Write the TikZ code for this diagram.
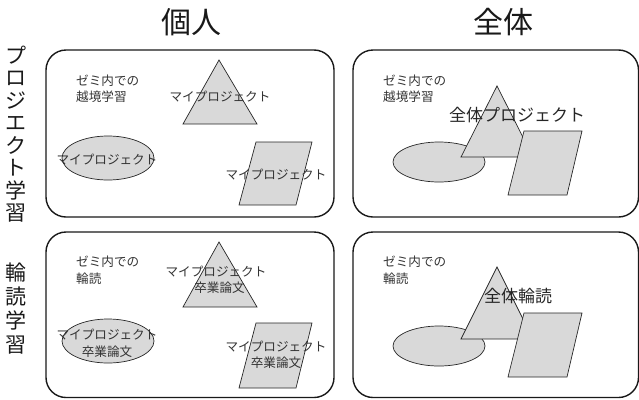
\documentclass[tikz,border=0pt]{standalone}
\usepackage{fontspec}
\setmainfont{Noto Sans CJK JP}
\usetikzlibrary{shapes.geometric}
\tikzset{
  panel/.style={draw=black!90, line width=1.4pt, rounded corners=20pt},
  shp/.style={draw=black!85, fill=black!15, line width=0.7pt},
  lbl/.style={inner sep=0pt, text=black!80, font=\fontsize{12.6}{16.5}\selectfont, align=center},
  biglbl/.style={inner sep=0pt, text=black!85, font=\fontsize{17}{20}\selectfont},
  head/.style={inner sep=0pt, text=black!90, font=\fontsize{30}{32}\selectfont},
  side/.style={inner sep=0pt, text=black!90, font=\fontsize{21}{22.5}\selectfont, align=center},
}
\begin{document}
\begin{tikzpicture}[x=1pt, y=-1pt]
\useasboundingbox (0,0) rectangle (639,399);
% headings
\node[head] (hk) at (191,22) {個人};
\node[head] (hz) at (503,22) {全体};
% side labels
\node[side] (sp) at (16,134) {プ\\ロ\\ジ\\エ\\ク\\ト\\学\\習};
\node[side] (sr) at (16,309) {輪\\[1.5pt]読\\[1.5pt]学\\[1.5pt]習};
% panels
\draw[panel] (46,50) rectangle (334,217);
\draw[panel] (353,50) rectangle (638.5,217);
\draw[panel] (46,232) rectangle (334,397.5);
\draw[panel] (353,232) rectangle (638.5,397.5);

% ---------- top-left ----------
\node[lbl, align=left, anchor=west] (tl0) at (76,88.5) {ゼミ内での\\越境学習};
\draw[shp] (219,60) -- (257,124) -- (183,124) -- cycle;
\node[lbl] (tl1) at (220,97) {マイプロジェクト};
\draw[shp] (108,158) ellipse (46 and 22);
\node[lbl] (tl2) at (107,160) {マイプロジェクト};
\draw[shp] (256,142) -- (312,142) -- (296,205) -- (239,205) -- cycle;
\node[lbl] (tl3) at (276,175) {マイプロジェクト};

% ---------- top-right ----------
\node[lbl, align=left, anchor=west] (tr0) at (383,88.5) {ゼミ内での\\越境学習};
\draw[shp] (439,162) ellipse (46 and 20);
\draw[shp] (497,86) -- (533,157) -- (461,157) -- cycle;
\draw[shp] (524,131) -- (582,131) -- (567,195) -- (508,195) -- cycle;
\node[biglbl] (tr1) at (517,115) {全体プロジェクト};

% ---------- bottom-left ----------
\node[lbl, align=left, anchor=west] (bl0) at (76,270) {ゼミ内での\\輪読};
\draw[shp] (219,242) -- (257,307) -- (183,307) -- cycle;
\node[lbl] (bl1) at (216,280) {マイプロジェクト\\\hspace*{7pt}卒業論文};
\draw[shp] (108,341) ellipse (46 and 22);
\node[lbl] (bl2) at (107,343.5) {マイプロジェクト\\卒業論文};
\draw[shp] (256,323) -- (312,323) -- (296,388) -- (239,388) -- cycle;
\node[lbl] (bl3) at (276,355) {マイプロジェクト\\卒業論文};

% ---------- bottom-right ----------
\node[lbl, align=left, anchor=west] (br0) at (383,270) {ゼミ内での\\輪読};
\draw[shp] (439,346) ellipse (46 and 20);
\draw[shp] (497,267) -- (533,339) -- (461,339) -- cycle;
\draw[shp] (524,313) -- (582,313) -- (567,377) -- (508,377) -- cycle;
\node[biglbl] (br1) at (518,296) {全体輪読};
\end{tikzpicture}
\end{document}
